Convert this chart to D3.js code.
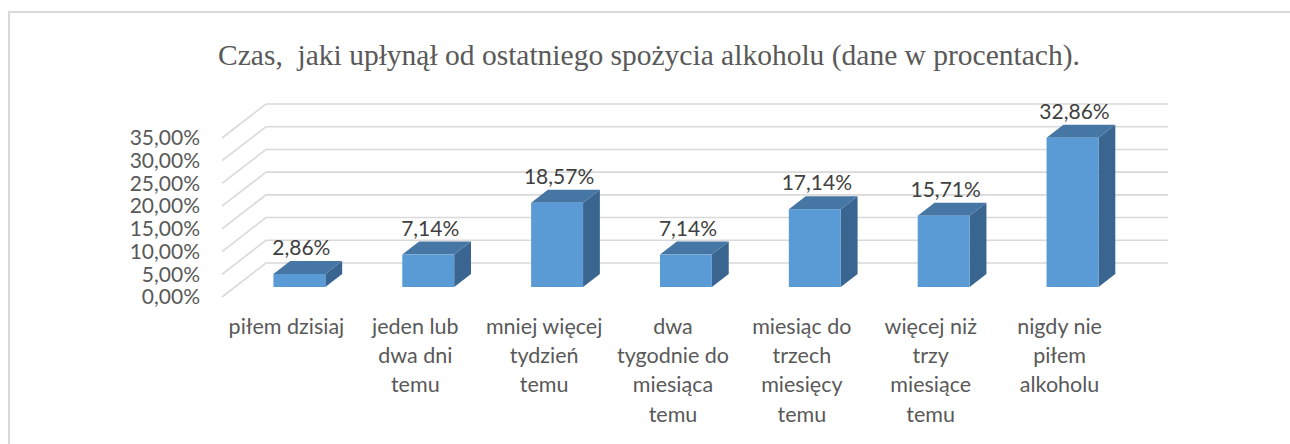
<!DOCTYPE html>
<html>
<head>
<meta charset="utf-8">
<script src="https://cdn.jsdelivr.net/npm/d3@7"></script>
<style>
  body { margin: 0; background: #fff; }
  svg { display: block; }
</style>
</head>
<body>
<svg></svg>
<script>
/*global d3*/

// kategorie (linie łamane tak jak w oryginale)
let categories = [
    'piłem dzisiaj',
    'jeden lub\ndwa dni\ntemu',
    'mniej więcej\ntydzień\ntemu',
    'dwa\ntygodnie do\nmiesiąca\ntemu',
    'miesiąc do\ntrzech\nmiesięcy\ntemu',
    'więcej niż\ntrzy\nmiesiące\ntemu',
    'nigdy nie\npiłem\nalkoholu'
];

// wartości w procentach
let values = [2.86, 7.14, 18.57, 7.14, 17.14, 15.71, 32.86];

// podziałka osi Y
let ticks = [0, 5, 10, 15, 20, 25, 30, 35];

let title = 'Czas,  jaki upłynął od ostatniego spożycia alkoholu (dane w procentach).';

let width = 1290;
let height = 444;

// obszar wykresu (przednia płaszczyzna)
let plot = { left: 222, right: 1124, top: 138, bottom: 297 };

// głębokość 3D
let depthX = 44;
let depthY = -34;
let f0 = 10 / 34;   // przód słupka
let f1 = 23 / 34;   // tył słupka

let fmt = v => d3.format('.2f')(v).replace('.', ',') + '%';

let svg = d3.select('svg')
    .attr('width', width)
    .attr('height', height);

// ramka
svg.append('rect')
    .attr('x', 9)
    .attr('y', 12)
    .attr('width', 1400)
    .attr('height', 600)
    .attr('fill', 'none')
    .attr('stroke', '#d9d9d9')
    .attr('stroke-width', 2);

// tytuł
svg.append('text')
    .attr('x', 649)
    .attr('y', 65)
    .attr('text-anchor', 'middle')
    .style('white-space', 'pre')
    .style('font-family', '"Liberation Serif", "Times New Roman", serif')
    .style('font-size', '29.5px')
    .style('fill', '#595959')
    .text(title);

let x = d3.scaleBand()
    .domain(categories)
    .range([plot.left, plot.right]);

let y = d3.scaleLinear()
    .domain([0, 35])
    .range([plot.bottom, plot.top]);

// linie siatki
let line = d3.line();
svg.append('g')
    .selectAll('path')
    .data(ticks)
    .enter()
    .append('path')
    .attr('d', t => line([
        [plot.left, y(t)],
        [plot.left + depthX, y(t) + depthY],
        [plot.right + depthX, y(t) + depthY]
    ]))
    .attr('fill', 'none')
    .attr('stroke', '#d9d9d9')
    .attr('stroke-width', 1.6);

// etykiety osi Y
svg.append('g')
    .selectAll('text')
    .data(ticks)
    .enter()
    .append('text')
    .attr('x', 200)
    .attr('y', t => y(t))
    .attr('dy', '0.35em')
    .attr('text-anchor', 'end')
    .style('font-family', 'Lato, "Open Sans", sans-serif')
    .style('font-size', '21px')
    .style('fill', '#595959')
    .text(t => fmt(t));

// słupki
let barW = x.bandwidth() * 0.403;
let ox0 = f0 * depthX, oy0 = f0 * depthY;
let dxb = (f1 - f0) * depthX, dyb = (f1 - f0) * depthY;

let bars = svg.append('g')
    .selectAll('g')
    .data(values)
    .enter()
    .append('g')
    .attr('transform', (d, i) => {
        let cx = x(categories[i]) + x.bandwidth() / 2 + ox0;
        return 'translate(' + (cx - barW / 2) + ',0)';
    });

// bok
bars.append('path')
    .attr('d', d => {
        let y0 = y(0) + oy0, y1 = y(d) + oy0;
        return line([[barW, y0], [barW + dxb, y0 + dyb], [barW + dxb, y1 + dyb], [barW, y1]]) + 'Z';
    })
    .attr('fill', '#3a6591');

// góra
bars.append('path')
    .attr('d', d => {
        let y1 = y(d) + oy0;
        return line([[0, y1], [dxb, y1 + dyb], [barW + dxb, y1 + dyb], [barW, y1]]) + 'Z';
    })
    .attr('fill', '#4676a4');

// przód
bars.append('rect')
    .attr('x', 0)
    .attr('y', d => y(d) + oy0)
    .attr('width', barW)
    .attr('height', d => y(0) - y(d))
    .attr('fill', '#5b9bd5');

// etykiety danych
bars.append('text')
    .attr('x', barW / 2 + 2)
    .attr('y', d => y(d) + oy0 + dyb - 6)
    .attr('text-anchor', 'middle')
    .style('font-family', 'Lato, "Open Sans", sans-serif')
    .style('font-size', '21px')
    .style('fill', '#404040')
    .text(d => fmt(d));

// etykiety kategorii
let cat = svg.append('g')
    .selectAll('text')
    .data(categories)
    .enter()
    .append('text')
    .attr('text-anchor', 'middle')
    .style('font-family', 'Lato, "Open Sans", sans-serif')
    .style('font-size', '21.5px')
    .style('fill', '#595959');

cat.selectAll('tspan')
    .data(c => c.split('\n').map(s => ({ c: c, s: s })))
    .enter()
    .append('tspan')
    .attr('x', d => x(d.c) + x.bandwidth() / 2)
    .attr('y', (d, i) => 334 + i * 29.2)
    .text(d => d.s);
</script>
</body>
</html>
